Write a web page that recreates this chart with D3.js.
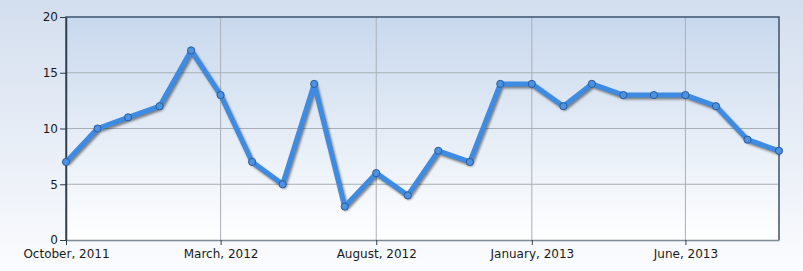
<!DOCTYPE html>
<html>
<head>
<meta charset="utf-8">
<script src="https://cdn.jsdelivr.net/npm/d3@7"></script>
<style>
  html, body { margin: 0; padding: 0; }
  body { width: 803px; height: 271px; overflow: hidden; }
  svg { display: block; font-family: "DejaVu Sans", Tahoma, sans-serif; }
</style>
</head>
<body>
<svg id="chart" width="803" height="271"></svg>
<script>
// monthly counts, Oct 2011 .. Sep 2013
const months = [
  "2011-10", "2011-11", "2011-12", "2012-01", "2012-02", "2012-03",
  "2012-04", "2012-05", "2012-06", "2012-07", "2012-08", "2012-09",
  "2012-10", "2012-11", "2012-12", "2013-01", "2013-02", "2013-03",
  "2013-04", "2013-05", "2013-06", "2013-07", "2013-08", "2013-09"
];
const counts = [7, 10, 11, 12, 17, 13, 7, 5, 14, 3, 6, 4, 8, 7, 14, 14, 12, 14, 13, 13, 13, 12, 9, 8];
const xTickMonths = ["2011-10", "2012-03", "2012-08", "2013-01", "2013-06"];
const yTicks = [0, 5, 10, 15, 20];

const parse = d3.timeParse("%Y-%m");
const data = months.map((m, i) => ({ date: parse(m), value: counts[i] }));

const svg = d3.select("#chart");
const margin = { left: 66, top: 17, right: 24, bottom: 31 };
const width = 803 - margin.left - margin.right;
const height = 271 - margin.top - margin.bottom;

const defs = svg.append("defs");
const bg = defs.append("linearGradient").attr("id", "bg")
    .attr("x1", "0%").attr("y1", "0%").attr("x2", "0%").attr("y2", "100%");
bg.append("stop").attr("offset", "0%").attr("stop-color", "#d3deee");
bg.append("stop").attr("offset", "100%").attr("stop-color", "#fbfcfe");
const plotBg = defs.append("linearGradient").attr("id", "plotbg")
    .attr("x1", "0%").attr("y1", "0%").attr("x2", "0%").attr("y2", "100%");
plotBg.append("stop").attr("offset", "0%").attr("stop-color", "#c8d8ed");
plotBg.append("stop").attr("offset", "100%").attr("stop-color", "#ffffff");

svg.append("rect").attr("width", 803).attr("height", 271).attr("fill", "url(#bg)");

const g = svg.append("g").attr("transform", `translate(${margin.left},${margin.top})`);

const x = d3.scaleTime()
    .domain(d3.extent(data, d => d.date))
    .range([0, width]);
const y = d3.scaleLinear().domain([0, 20]).range([height, 0]);

g.append("rect").attr("width", width).attr("height", height).attr("fill", "url(#plotbg)");

// grid
g.append("g").selectAll("line")
    .data(yTicks.slice(1, -1))
    .join("line")
    .attr("x1", 0).attr("x2", width)
    .attr("y1", d => y(d)).attr("y2", d => y(d))
    .attr("stroke", "#a9afb6").attr("stroke-width", 1);
g.append("g").selectAll("line")
    .data(xTickMonths.slice(1).map(parse))
    .join("line")
    .attr("y1", 0).attr("y2", height)
    .attr("x1", d => x(d)).attr("x2", d => x(d))
    .attr("stroke", "#a9afb6").attr("stroke-width", 1);

// frame
g.append("path")
    .attr("d", `M0,${height}V0H${width}V${height}`)
    .attr("fill", "none").attr("stroke", "#3d526b").attr("stroke-width", 1.5);

// axes
const xAxis = g.append("g")
    .attr("transform", `translate(0,${height})`)
    .call(d3.axisBottom(x)
        .tickValues(xTickMonths.map(parse))
        .tickFormat(d3.timeFormat("%B, %Y"))
        .tickSize(5).tickSizeOuter(0));
xAxis.select(".domain").attr("stroke", "#7d8a96").attr("stroke-width", 1.5);
xAxis.selectAll(".tick line").attr("stroke", "#2c3e50");
xAxis.selectAll("text").attr("fill", "#1a1a1a").attr("font-size", 12).attr("dy", "0.8em");

const yAxis = g.append("g")
    .call(d3.axisLeft(y).tickValues(yTicks).tickSize(6).tickSizeOuter(0));
yAxis.select(".domain").attr("stroke", "#2c3e50").attr("stroke-width", 1.5);
yAxis.selectAll(".tick line").attr("stroke", "#2c3e50");
yAxis.selectAll("text").attr("fill", "#1a1a1a").attr("font-size", 12).attr("x", -8);

xAxis.attr("font-family", null);
yAxis.attr("font-family", null);

const line = d3.line().x(d => x(d.date)).y(d => y(d.value));

// shadow
g.append("path").datum(data)
    .attr("d", line)
    .attr("transform", "translate(1.5,2)")
    .attr("fill", "none")
    .attr("stroke", "#000").attr("stroke-opacity", 0.45)
    .attr("stroke-width", 5).attr("stroke-linejoin", "round")
    .style("filter", "blur(1px)");

g.append("path").datum(data)
    .attr("d", line)
    .attr("fill", "none")
    .attr("stroke", "#3d8be2").attr("stroke-width", 5)
    .attr("stroke-linejoin", "round").attr("stroke-linecap", "round");

g.append("g").selectAll("circle")
    .data(data)
    .join("circle")
    .attr("cx", d => x(d.date))
    .attr("cy", d => y(d.value))
    .attr("r", 3.6)
    .attr("fill", "#4c92e4")
    .attr("stroke", "#2a5c99").attr("stroke-width", 1);
</script>
</body>
</html>
